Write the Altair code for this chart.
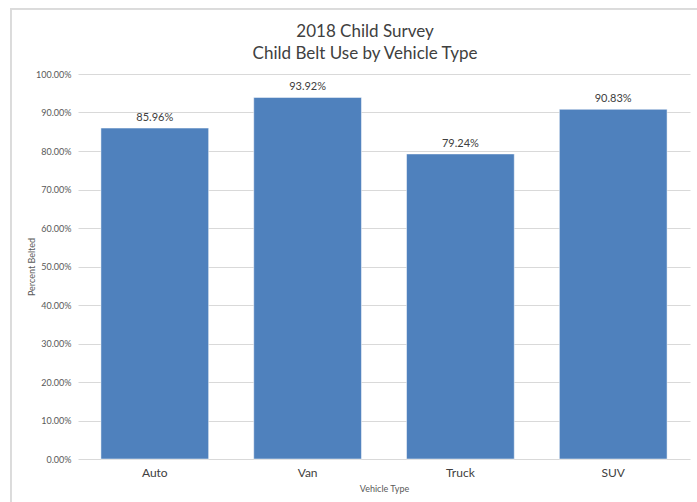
import altair as alt
import pandas as pd

# Child belt use by vehicle type, 2018 survey
vehicle_types = ["Auto", "Van", "Truck", "SUV"]
percent_belted = [0.8596, 0.9392, 0.7924, 0.9083]

df = pd.DataFrame({"Vehicle Type": vehicle_types, "Percent Belted": percent_belted})

FONT = "Lato"
GRID = "#d9d9d9"
TEXT = "#595959"

x_enc = alt.X(
    "Vehicle Type:N",
    sort=vehicle_types,
    scale=alt.Scale(paddingInner=0.295, paddingOuter=0.15),
    axis=alt.Axis(
        title="Vehicle Type",
        labelAngle=0,
        labelFontSize=12,
        labelColor="#404040",
        labelPadding=8,
        ticks=False,
        domain=False,
        titleFontSize=9,
        titleColor=TEXT,
        titleFontWeight="normal",
        titlePadding=6,
    ),
)
y_enc = alt.Y(
    "Percent Belted:Q",
    scale=alt.Scale(domain=[0, 1]),
    axis=alt.Axis(
        title="Percent Belted",
        format=".2%",
        values=[i / 10 for i in range(11)],
        labelFontSize=9,
        labelColor=TEXT,
        labelPadding=7,
        ticks=False,
        domain=False,
        grid=True,
        gridColor=GRID,
        titleFontSize=9,
        titleColor=TEXT,
        titleFontWeight="normal",
        titleX=-47,
        titleBaseline="middle",
    ),
)

base = alt.Chart(df).encode(x=x_enc, y=y_enc)

bars = base.mark_bar(color="#4f81bd", stroke="#ffffff", strokeWidth=0.5)
labels = base.mark_text(
    baseline="bottom", dy=-5, fontSize=11, color="#404040", font=FONT
).encode(text=alt.Text("Percent Belted:Q", format=".2%"))

# thin outer frame around the chart area
frame_left = alt.Chart(df).mark_rule(color=GRID, strokeWidth=1).encode(
    x=alt.value(-67), y=alt.value(-65), y2=alt.value(440)
)
frame_top = alt.Chart(df).mark_rule(color=GRID, strokeWidth=1).encode(
    x=alt.value(-68), x2=alt.value(640), y=alt.value(-65)
)

chart = (
    alt.layer(frame_left, frame_top, bars, labels)
    .properties(
        width=612,
        height=385,
        title=alt.TitleParams(
            text=["2018 Child Survey", "Child Belt Use by Vehicle Type"],
            fontSize=17,
            font=FONT,
            fontWeight="normal",
            color="#404040",
            lineHeight=22,
            offset=0,
            dy=54,
            anchor="middle",
            frame="group",
            dx=-19,
        ),
        padding={"left": 78, "top": 74, "right": 7, "bottom": 43},
        autosize=alt.AutoSizeParams(type="none"),
    )
    .configure(font=FONT)
    .configure_view(stroke=None)
    .configure_axis(labelFont=FONT, titleFont=FONT)
)

chart.save("out.html", embed_options={"renderer": "svg", "actions": False})
